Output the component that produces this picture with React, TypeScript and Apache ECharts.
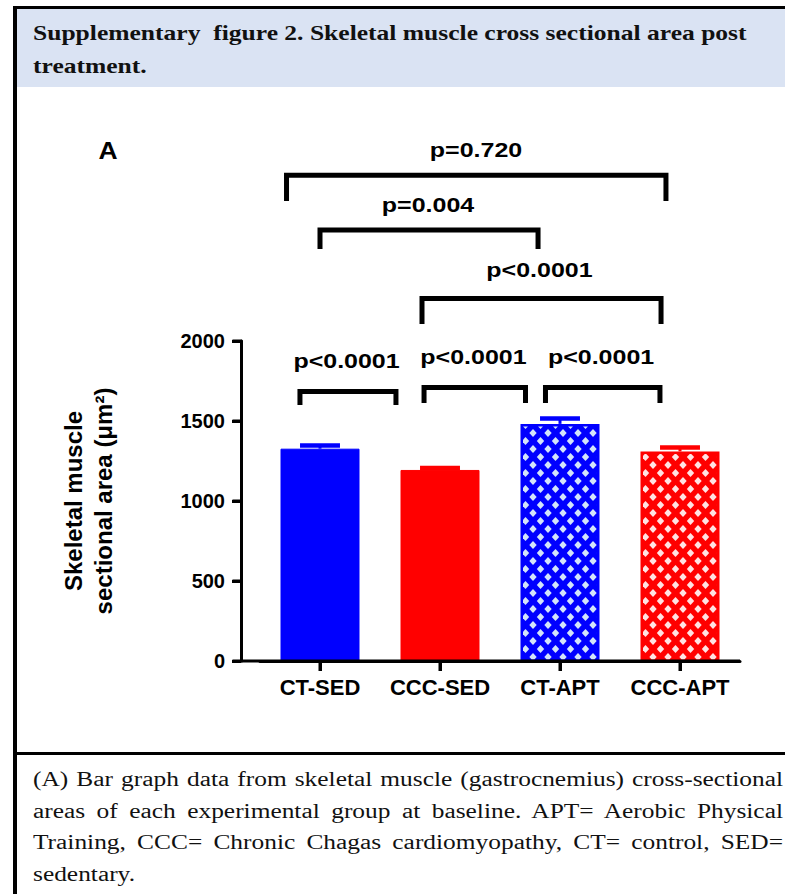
import React, { useEffect, useRef } from "react";
import * as echarts from "echarts";

// ---------- data ----------
const groups = ["CT-SED", "CCC-SED", "CT-APT", "CCC-APT"];
const meanArea = [1327, 1194, 1482, 1310];
const meanPlusSem = [1347, 1206, 1516, 1334];
const yTicks = [0, 500, 1000, 1500, 2000];
const comparisonPairs = [
  ["CT-SED", "CCC-APT"],
  ["CT-SED", "CT-APT"],
  ["CCC-SED", "CCC-APT"],
  ["CT-SED", "CCC-SED"],
  ["CCC-SED", "CT-APT"],
  ["CT-APT", "CCC-APT"],
];
const pValues = ["p=0.720", "p=0.004", "p<0.0001", "p<0.0001", "p<0.0001", "p<0.0001"];

// ---------- layout / style ----------
const GRID = { left: 260, top: 341, width: 480, height: 320 };
const Y_AXIS_OFFSET = 19;
const BAR_WIDTH = 79;
const Y_TICK_LEN = 9;
const X_TICK_LEN = 10;
// dl/dr: bracket leg offsets (category units) from the compared groups,
// top/foot: bracket bar and leg end (axis units), lx/ly: label centre
const bracketLayout = [
  { dl: -0.279, dr: -0.117, top: 3036, foot: 2875, lx: 1.3, ly: 3194 },
  { dl: 0.0, dr: -0.183, top: 2694, foot: 2575, lx: 0.9, ly: 2850 },
  { dl: -0.15, dr: -0.158, top: 2266, foot: 2106, lx: 1.829, ly: 2444 },
  { dl: -0.167, dr: -0.367, top: 1684, foot: 1600, lx: 0.221, ly: 1875 },
  { dl: -0.133, dr: -0.2875, top: 1709, foot: 1612, lx: 1.279, ly: 1900 },
  { dl: -0.121, dr: -0.167, top: 1709, foot: 1612, lx: 2.342, ly: 1900 },
];
const SANS = '"Liberation Sans", Arial, sans-serif';
const SERIF = '"Liberation Serif", "Times New Roman", serif';
const BLUE = "#0000ff";
const RED = "#ff0000";
const groupColors = [BLUE, RED, BLUE, RED];
const patterned = [false, false, true, true];
const patternLight = ["", "", "#d3e4fa", "#ffe3e3"];

type Pt = [number, number];
function clipOne(poly: Pt[], k: number, v: number, keepGE: boolean): Pt[] {
  const out: Pt[] = [];
  for (let i = 0; i < poly.length; i++) {
    const a = poly[i];
    const b = poly[(i + 1) % poly.length];
    const ina = keepGE ? a[k] >= v : a[k] <= v;
    const inb = keepGE ? b[k] >= v : b[k] <= v;
    if (ina) out.push(a);
    if (ina !== inb) {
      const t = (v - a[k]) / (b[k] - a[k]);
      out.push([a[0] + t * (b[0] - a[0]), a[1] + t * (b[1] - a[1])]);
    }
  }
  return out;
}
function clipRect(poly: Pt[], x0: number, y0: number, x1: number, y1: number): Pt[] {
  let p = clipOne(poly, 0, x0, true);
  p = clipOne(p, 0, x1, false);
  p = clipOne(p, 1, y0, true);
  p = clipOne(p, 1, y1, false);
  return p;
}

export default function App() {
  const ref = useRef<HTMLDivElement>(null);

  useEffect(() => {
    const el = ref.current!;
    const chart = echarts.init(el, null, { renderer: "svg" });
    const barStyles = groups.map((g, i) => ({
      color: groupColors[i],
      borderColor: groupColors[i],
      borderWidth: patterned[i] ? 3 : 1,
    }));

    const option: any = {
      animation: false,
      grid: { ...GRID },
      xAxis: {
        type: "category",
        data: groups,
        axisLine: { show: true, lineStyle: { color: "#000", width: 3 } },
        axisTick: { show: true, alignWithLabel: true, interval: 0, length: X_TICK_LEN, lineStyle: { color: "#000", width: 3 } },
        axisLabel: { interval: 0, color: "#000", fontFamily: SANS, fontWeight: "bold", fontSize: 22, margin: 15 },
        splitLine: { show: false },
      },
      yAxis: {
        type: "value",
        min: yTicks[0],
        max: yTicks[yTicks.length - 1],
        interval: yTicks[1] - yTicks[0],
        offset: Y_AXIS_OFFSET,
        axisLine: { show: true, lineStyle: { color: "#000", width: 3 } },
        axisTick: { show: true, length: Y_TICK_LEN, lineStyle: { color: "#000", width: 3 } },
        axisLabel: {
          color: "#000",
          fontFamily: SANS,
          fontWeight: "bold",
          fontSize: 20,
          margin: 16,
          formatter: (v: number) => String(v),
        },
        splitLine: { show: false },
        name: "Skeletal muscle\nsectional area (\u03bcm\u00b2)",
        nameLocation: "middle",
        nameRotate: 90,
        nameGap: 123,
        nameTextStyle: { color: "#000", fontFamily: SANS, fontWeight: "bold", fontSize: 24, lineHeight: 30 },
      },
      series: [
        {
          type: "bar",
          barWidth: BAR_WIDTH,
          data: meanArea.map((v, i) => ({ value: v, itemStyle: barStyles[i] })),
          z: 2,
        },
        {
          // light diamond hatch inside the patterned bars
          type: "custom",
          z: 3,
          silent: true,
          encode: { x: 0, y: 1 },
          data: groups.map((g, i) => [i, meanArea[i]]).filter((d, i) => patterned[i]),
          renderItem: (params: any, api: any) => {
            const idx = api.value(0);
            const top = api.coord([idx, api.value(1)]);
            const bot = api.coord([idx, 0]);
            const inset = 2.5;
            const x0 = top[0] - BAR_WIDTH / 2 + inset;
            const x1 = top[0] + BAR_WIDTH / 2 - inset;
            const y0 = top[1] + inset;
            const y1 = bot[1] - 1.5;
            const children: any[] = [];
            for (let n = 0; n < 80; n++) {
              const cy = bot[1] - 4 - 8 * n;
              if (cy < y0 - 5) break;
              for (let m = -7; m <= 7; m++) {
                if ((m + n) & 1) continue;
                const cx = top[0] + 3 + 7.5 * m;
                const poly = clipRect(
                  [
                    [cx, cy - 3.9],
                    [cx + 3.7, cy],
                    [cx, cy + 3.9],
                    [cx - 3.7, cy],
                  ],
                  x0,
                  y0,
                  x1,
                  y1
                );
                if (poly.length >= 3) {
                  children.push({ type: "polygon", shape: { points: poly }, style: { fill: patternLight[idx] } });
                }
              }
            }
            return { type: "group", children };
          },
        },
        {
          // SEM error bars
          type: "custom",
          z: 4,
          encode: { x: 0, y: [1, 2] },
          data: groups.map((g, i) => [i, meanArea[i], meanPlusSem[i]]),
          renderItem: (params: any, api: any) => {
            const idx = api.value(0);
            const p0 = api.coord([idx, api.value(1)]);
            const p1 = api.coord([idx, api.value(2)]);
            const half = (api.size([1, 0])[0] * 0.333) / 2;
            const color = groupColors[idx];
            return {
              type: "group",
              children: [
                { type: "line", shape: { x1: p0[0], y1: p0[1], x2: p1[0], y2: p1[1] }, style: { stroke: color, lineWidth: 3 } },
                { type: "line", shape: { x1: p1[0] - half, y1: p1[1], x2: p1[0] + half, y2: p1[1] }, style: { stroke: color, lineWidth: 4.5 } },
              ],
            };
          },
        },
      ],
    };
    chart.setOption(option);

    const toPx = (cat: number, val: number) => {
      const a = chart.convertToPixel({ gridIndex: 0 }, [0, val]) as number[];
      const b = chart.convertToPixel({ gridIndex: 0 }, [1, val]) as number[];
      return [a[0] + cat * (b[0] - a[0]), a[1]];
    };

    const graphics: any[] = [];
    // axis frame: y axis (offset from the grid) with its ticks, x axis with category ticks,
    // traced as one polyline through points from the chart's own scales
    const zeroY = toPx(0, 0)[1];
    const axisX = GRID.left - Y_AXIS_OFFSET + 0.5;
    const frame: number[][] = [];
    const yDesc = yTicks.slice().sort((a, b) => b - a);
    yDesc.forEach((v, k) => {
      const y = toPx(0, v)[1];
      if (k === 0) {
        frame.push([axisX - Y_TICK_LEN, y]);
        frame.push([axisX, y]);
      } else {
        frame.push([axisX, y]);
        frame.push([axisX - Y_TICK_LEN, y]);
        frame.push([axisX, y]);
      }
    });
    groups.forEach((g, i) => {
      const x = toPx(i, 0)[0];
      frame.push([x, zeroY]);
      frame.push([x, zeroY + X_TICK_LEN]);
      frame.push([x, zeroY]);
    });
    frame.push([GRID.left + GRID.width, zeroY]);
    graphics.push({
      type: "polyline",
      shape: { points: frame },
      style: { stroke: "#000", lineWidth: 3, fill: null, lineJoin: "bevel", lineCap: "butt" },
      z: 10,
    });

    comparisonPairs.forEach((pair, k) => {
      const L = bracketLayout[k];
      const ia = groups.indexOf(pair[0]);
      const ib = groups.indexOf(pair[1]);
      graphics.push({
        type: "polyline",
        shape: {
          points: [toPx(ia + L.dl, L.foot), toPx(ia + L.dl, L.top), toPx(ib + L.dr, L.top), toPx(ib + L.dr, L.foot)],
        },
        style: { stroke: "#000", lineWidth: 5, fill: null, lineJoin: "miter", lineCap: "butt" },
        z: 10,
      });
      const lp = toPx(L.lx, L.ly);
      graphics.push({
        type: "text",
        x: lp[0],
        y: lp[1],
        scaleX: 1.25,
        style: {
          text: pValues[k],
          fill: "#000",
          fontFamily: SANS,
          fontWeight: "bold",
          fontSize: 20,
          align: "center",
          verticalAlign: "middle",
        },
        z: 10,
      });
    });

    graphics.push({
      type: "text",
      x: 108,
      y: 151,
      scaleX: 1.15,
      style: {
        text: "A",
        fill: "#000",
        fontFamily: SANS,
        fontWeight: "bold",
        fontSize: 23,
        align: "center",
        verticalAlign: "middle",
      },
      z: 10,
    });

    chart.setOption({ graphic: graphics });
    return () => chart.dispose();
  }, []);

  return (
    <div
      style={{
        position: "absolute",
        left: 0,
        top: 0,
        width: 785,
        height: 894,
        background: "#fff",
        overflow: "hidden",
      }}
    >
      <div style={{ position: "absolute", left: 13, top: 6, right: 0, height: 3, background: "#000" }} />
      <div style={{ position: "absolute", left: 13, top: 6, width: 4, bottom: 0, background: "#000" }} />
      <div style={{ position: "absolute", left: 17, top: 9, right: 0, height: 78, background: "#dae3f3" }} />
      <div style={{ position: "absolute", left: 13, top: 752, right: 0, height: 3, background: "#000" }} />
      <div ref={ref} style={{ position: "absolute", left: 0, top: 0, width: 785, height: 894 }} />
      <div
        style={{
          position: "absolute",
          left: 33,
          top: 17,
          fontFamily: SERIF,
          fontWeight: "bold",
          fontSize: 21,
          lineHeight: "33px",
          color: "#111",
          whiteSpace: "nowrap",
          transform: "scaleX(1.216)",
          transformOrigin: "0 0",
        }}
      >
        Supplementary{"\u00a0"} figure 2. Skeletal muscle cross sectional area post
        <br />
        treatment.
      </div>
      <div
        style={{
          position: "absolute",
          left: 33,
          top: 764,
          width: 750 / 1.27,
          fontFamily: SERIF,
          fontSize: 20,
          lineHeight: "31.5px",
          color: "#111",
          textAlign: "justify",
          transform: "scaleX(1.27)",
          transformOrigin: "0 0",
        }}
      >
        (A) Bar graph data from skeletal muscle (gastrocnemius) cross-sectional areas of each
        experimental group at baseline. APT= Aerobic Physical Training, CCC= Chronic Chagas
        cardiomyopathy, CT= control, SED= sedentary.
      </div>
    </div>
  );
}
